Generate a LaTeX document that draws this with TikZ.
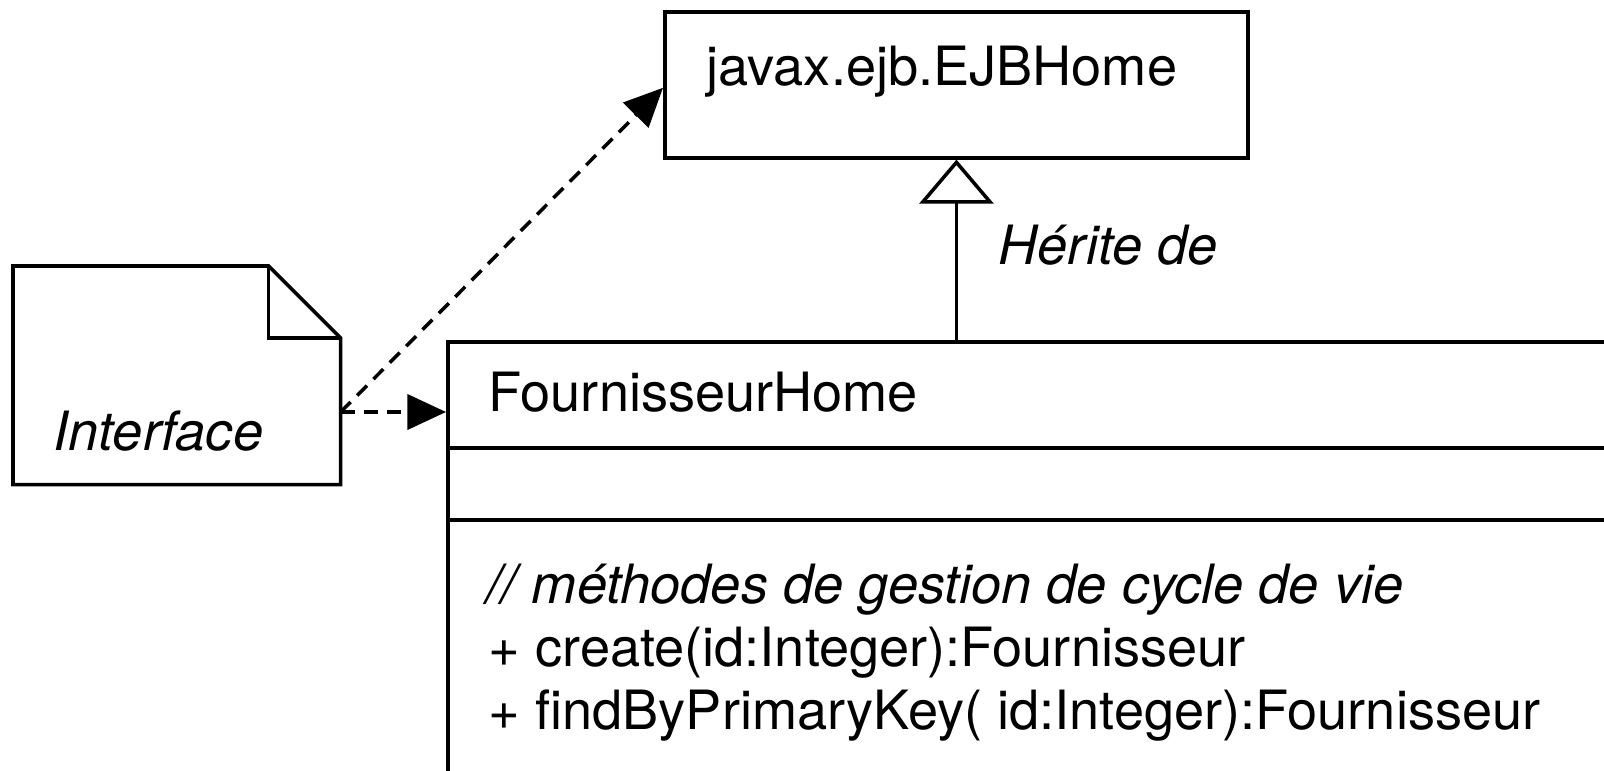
\documentclass[tikz,border=0pt]{standalone}
\usepackage{fontspec}
\setmainfont{TeX Gyre Heros}
\usetikzlibrary{arrows.meta}

\begin{document}
\begin{tikzpicture}[x=0.01cm, y=-0.01cm, line width=1pt, font=\fontsize{15.4}{18}\selectfont]
%% coordinates are given in pixels of the original drawing (y grows downwards)
%% the class box on the right runs past the border and is cut by the clip
\tikzstyle{classbox}=[draw, rectangle, inner sep=0pt, anchor=north west]
\tikzstyle{notebox}=[rectangle, inner sep=0pt, anchor=north west]
\tikzstyle{classText}=[anchor=base west, inner sep=0pt]
\tikzstyle{depArc}=[-{Triangle[length=11pt,width=10pt]}, dash pattern=on 4pt off 2.6pt]
\tikzstyle{inheritArc}=[-{Triangle[open,length=12.5pt,width=21pt]}]
\clip (0,0) rectangle (1604,770);
%% TikZ-figure elements %%
\node[classbox, minimum width=5.83cm, minimum height=1.46cm] at (663,10) (EJBHome) {};
%% label for class EJBHome
\node[classText] at (705,86) (EJBHome_Name) {javax.ejb.EJBHome};
\node[classbox, minimum width=12.00cm, minimum height=4.60cm] at (446,340) (FournisseurHome) {};
%% compartments of FournisseurHome
\draw (FournisseurHome.west |- 0,448) -- (FournisseurHome.east |- 0,448);
\draw (FournisseurHome.west |- 0,520) -- (FournisseurHome.east |- 0,520);
\node[classText] at (487,411) (FournisseurHome_Name) {FournisseurHome};
\node[classText] at (485,603) (Method_Comment) {\itshape // méthodes de gestion de cycle de vie};
\node[classText] at (487,666) (Method_Create) {+ create(id:Integer):Fournisseur};
\node[classText] at (487,729) (Method_Find) {+ findByPrimaryKey( id:Integer):Fournisseur};
%% note with folded corner
\node[notebox, minimum width=3.24cm, minimum height=2.15cm] at (13,266) (Interface_Note) {};
\draw (Interface_Note.north west) -- ([xshift=-0.72cm]Interface_Note.north east)
  -- ([yshift=-0.72cm]Interface_Note.north east) -- (Interface_Note.south east)
  -- (Interface_Note.south west) -- cycle;
\draw ([xshift=-0.72cm]Interface_Note.north east) -- ([xshift=-0.72cm,yshift=-0.72cm]Interface_Note.north east)
  -- ([yshift=-0.72cm]Interface_Note.north east);
\node[classText] at (52,450) (Interface_Label) {\itshape Interface};
\coordinate (Note_Out) at (Interface_Note.east |- 0,412);
%% arcs
\draw[depArc] (Note_Out) -- (FournisseurHome.west |- Note_Out);
\draw[depArc] (Note_Out) -- ([yshift=-0.03cm]EJBHome.west);
\draw[inheritArc] (EJBHome.south |- FournisseurHome.north) -- (EJBHome.south);
%% label for the inheritance arc
\node[classText] at (997,264) (Inherit_Label) {\itshape Hérite de};
\end{tikzpicture}
\end{document}
